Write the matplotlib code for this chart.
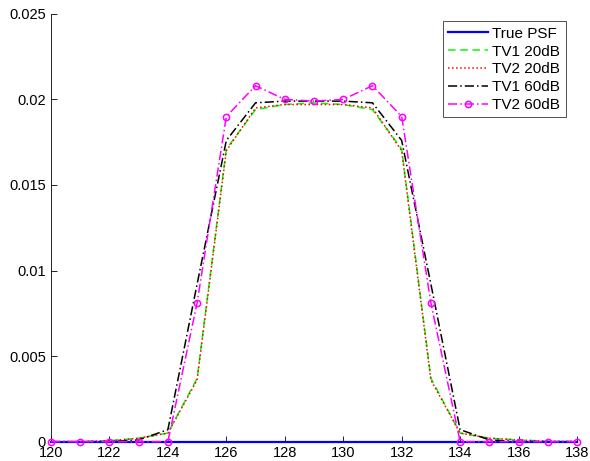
import numpy as np
import matplotlib.pyplot as plt

plt.rcParams['font.family'] = ['Liberation Sans', 'DejaVu Sans']

x = np.arange(120, 139)

true_psf = [0] * 19
tv1_20 = [0, 0, 0.00005, 0.0002, 0.0005, 0.0037, 0.0171, 0.0194, 0.0197, 0.0198,
          0.0197, 0.0194, 0.0171, 0.0037, 0.0005, 0.0002, 0.0001, 0.00002, 0]
tv2_20 = [0, 0, 0.00005, 0.0002, 0.0005, 0.0036, 0.0170, 0.0195, 0.0197, 0.0197,
          0.0197, 0.0195, 0.0170, 0.0036, 0.0005, 0.0002, 0.0001, 0.00002, 0]
tv1_60 = [0, 0, 0, 0.0001, 0.0007, 0.0092, 0.0176, 0.0198, 0.0199, 0.0199,
          0.0199, 0.0198, 0.0176, 0.0092, 0.0007, 0.0001, 0, 0, 0]
tv2_60 = [0, 0, 0, 0, 0, 0.0081, 0.0190, 0.0208, 0.0200, 0.0199,
          0.0200, 0.0208, 0.0190, 0.0081, 0, 0, 0, 0, 0]

fig = plt.figure(figsize=(5.9, 4.61), dpi=100)
ax = fig.add_axes([0.0864, 0.042, 0.8916, 0.928])

ax.plot(x, true_psf, '-', color='#0000ff', linewidth=1.6, label='True PSF', zorder=2.8, clip_on=False)
ax.plot(x, tv1_20, '--', color='#00ff00', linewidth=1.1, dashes=(5, 3), label='TV1 20dB', clip_on=False)
ax.plot(x, tv2_20, ':', color='#ff0000', linewidth=1.1, label='TV2 20dB', clip_on=False)
ax.plot(x, tv1_60, '-.', color='black', linewidth=1.1, dashes=(6, 2, 1, 2), label='TV1 60dB', clip_on=False)
ax.plot(x, tv2_60, '-.', color='#ff00ff', linewidth=1.1, dashes=(6, 2, 1, 2), marker='o',
        markersize=4.5, markerfacecolor='none', markeredgewidth=1.1, label='TV2 60dB',
        zorder=3, clip_on=False)

ax.set_xlim(120, 138)
ax.set_ylim(0, 0.025)
ax.set_xticks(np.arange(120, 139, 2))
ax.set_yticks([0, 0.005, 0.01, 0.015, 0.02, 0.025])
ax.set_yticklabels(['0', '0.005', '0.01', '0.015', '0.02', '0.025'])
ax.spines[['right', 'top']].set_visible(False)
ax.tick_params(direction='in', labelsize=10.5, length=4, width=0.6)
ax.spines[['left', 'bottom']].set_linewidth(0.6)

leg = ax.legend(loc='upper right', fontsize=11, frameon=True, fancybox=False,
                edgecolor='black', handlelength=2.6, borderpad=0.35, labelspacing=0.25,
                handletextpad=0.3, bbox_to_anchor=(0.993, 1.0))
leg.get_frame().set_linewidth(0.6)

fig.savefig('out.png', dpi=100)
